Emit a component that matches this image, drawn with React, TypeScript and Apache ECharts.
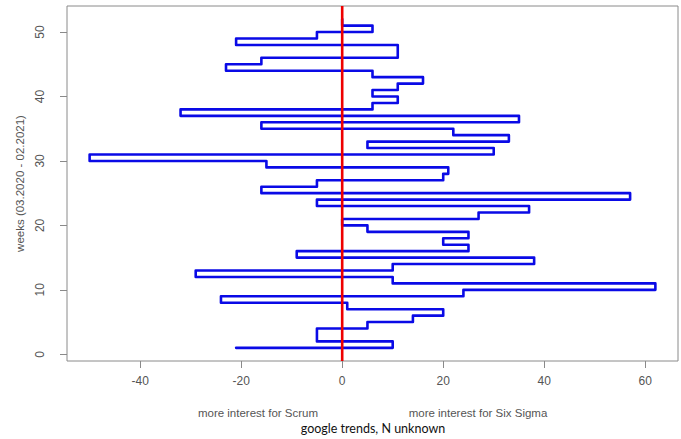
import React, { useEffect, useRef } from "react";
import * as echarts from "echarts";

// weeks (03.2020 - 02.2021)
const weeks = [
  1, 2, 3, 4, 5, 6, 7, 8, 9, 10, 11, 12, 13, 14, 15, 16, 17, 18, 19, 20, 21, 22, 23, 24, 25, 26,
  27, 28, 29, 30, 31, 32, 33, 34, 35, 36, 37, 38, 39, 40, 41, 42, 43, 44, 45, 46, 47, 48, 49, 50, 51, 52,
];
// Six Sigma interest minus Scrum interest (google trends)
const difference = [
  -21, 10, -5, -5, 5, 14, 20, 1, -24, 24, 62, 10, -29, 10, 38, -9, 25, 20, 25, 5, 0, 27, 37, -5, 57, -16,
  -5, 20, 21, -15, -50, 30, 5, 33, 22, -16, 35, -32, 6, 11, 6, 11, 16, 6, -23, -16, 11, 11, -21, -5, 6, 0,
];
const xTickValues = [-40, -20, 0, 20, 40, 60];
const yTickValues = [0, 10, 20, 30, 40, 50];

const yTitle = "weeks (03.2020 - 02.2021)";
const leftNote = "more interest for Scrum";
const rightNote = "more interest for Six Sigma";
const caption = "google trends, N unknown";

export default function App() {
  const ref = useRef<HTMLDivElement>(null);

  useEffect(() => {
    if (!ref.current) return;
    const chart = echarts.init(ref.current, null, { renderer: "svg" });

    // R-style 4% range extension
    const xMinD = Math.min(...difference);
    const xMaxD = Math.max(...difference);
    const xPad = (xMaxD - xMinD) * 0.04;
    const yMinD = Math.min(...weeks);
    const yMaxD = Math.max(...weeks);
    const yPad = (yMaxD - yMinD) * 0.04;
    const xMin = xMinD - xPad;
    const xMax = xMaxD + xPad;
    const yMin = yMinD - yPad;
    const yMax = yMaxD + yPad;

    const gray = "#8a8a8a";
    const labelGray = "#555555";
    const font = "'Liberation Sans', Arial, sans-serif";

    chart.setOption({
      animation: false,
      grid: {
        left: 67,
        top: 6,
        right: 3,
        bottom: 78,
        show: true,
        borderColor: gray,
        borderWidth: 1,
        backgroundColor: "#ffffff",
      },
      xAxis: {
        type: "value",
        min: xMin,
        max: xMax,
        axisLine: { show: false, onZero: false },
        splitLine: { show: false },
        axisTick: {
          show: true,
          length: 7,
          customValues: xTickValues,
          lineStyle: { color: gray, width: 1 },
        },
        axisLabel: {
          customValues: xTickValues,
          color: labelGray,
          fontFamily: font,
          fontSize: 12,
          margin: 14,
        },
      },
      yAxis: {
        type: "value",
        min: yMin,
        max: yMax,
        name: yTitle,
        nameLocation: "middle",
        nameGap: 41,
        nameTextStyle: { color: labelGray, fontFamily: font, fontSize: 11.5 },
        axisLine: { show: false, onZero: false },
        splitLine: { show: false },
        axisTick: {
          show: true,
          length: 7,
          customValues: yTickValues,
          lineStyle: { color: gray, width: 1 },
        },
        axisLabel: {
          customValues: yTickValues,
          rotate: 90,
          color: labelGray,
          fontFamily: font,
          fontSize: 12,
          margin: 21,
        },
      },
      series: [
        {
          type: "line",
          step: "end",
          data: weeks.map((w, i) => [difference[i], w]),
          showSymbol: false,
          symbol: "none",
          lineStyle: { color: "#0a0ae6", width: 2.6, join: "round", cap: "round" },
          z: 2,
        },
        {
          type: "line",
          data: [
            [0, yMin],
            [0, yMax],
          ],
          showSymbol: false,
          symbol: "none",
          lineStyle: { color: "#ee0000", width: 2.6 },
          z: 3,
        },
      ],
      graphic: [
        {
          type: "text",
          x: 258,
          y: 413,
          style: {
            text: leftNote,
            fill: labelGray,
            font: `11.5px ${font}`,
            textAlign: "center",
            textVerticalAlign: "middle",
          },
        },
        {
          type: "text",
          x: 478,
          y: 413,
          style: {
            text: rightNote,
            fill: labelGray,
            font: `11.5px ${font}`,
            textAlign: "center",
            textVerticalAlign: "middle",
          },
        },
        {
          type: "text",
          x: 373,
          y: 428,
          style: {
            text: caption,
            fill: "#111111",
            font: "12.5px Lato, 'Open Sans', sans-serif",
            textAlign: "center",
            textVerticalAlign: "middle",
          },
        },
      ],
    });

    return () => {
      chart.dispose();
    };
  }, []);

  return (
    <div
      ref={ref}
      style={{ position: "fixed", left: 0, top: 0, width: 681, height: 439, background: "#ffffff" }}
    />
  );
}
